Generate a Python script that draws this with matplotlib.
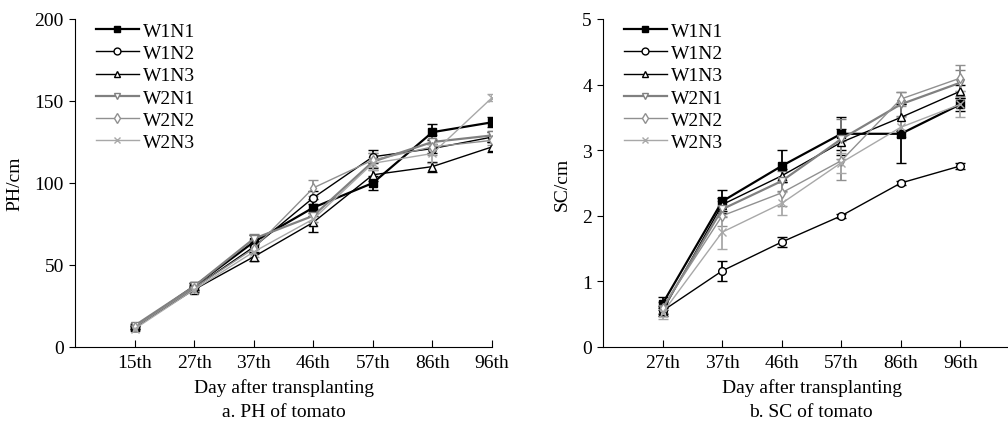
import numpy as np
from matplotlib import pyplot as plt

plt.rcParams['font.family'] = ['Liberation Serif', 'DejaVu Serif']
plt.rcParams['font.size'] = 14

# plant height (cm)
ph_days = ["15th", "27th", "37th", "46th", "57th", "86th", "96th"]
ph_W1N1 = [12, 37, 64, 85, 100, 131, 137]
ph_W1N2 = [12, 36, 61, 91, 116, 121, 128]
ph_W1N3 = [12, 35, 55, 76, 105, 110, 122]
ph_W2N1 = [13, 37, 66, 80, 113, 125, 129]
ph_W2N2 = [12, 36, 60, 97, 114, 122, 126]
ph_W2N3 = [11, 35, 58, 78, 112, 118, 152]
ph_err_W1N1 = [1, 2, 4, 5, 4, 5, 3]
ph_err_W1N2 = [1, 1.5, 3, 4, 4, 3, 3]
ph_err_W1N3 = [1, 1.5, 2.5, 6, 4, 3, 3]
ph_err_W2N1 = [1, 2, 3, 4, 5, 4, 3]
ph_err_W2N2 = [1, 2, 3, 5, 4, 5, 3]
ph_err_W2N3 = [1, 2, 3, 4, 4, 6, 2]

# stem coarse (cm)
sc_days = ["27th", "37th", "46th", "57th", "86th", "96th"]
sc_W1N1 = [0.66, 2.22, 2.76, 3.25, 3.25, 3.70]
sc_W1N2 = [0.55, 1.16, 1.60, 2.00, 2.50, 2.76]
sc_W1N3 = [0.55, 2.17, 2.61, 3.12, 3.50, 3.90]
sc_W2N1 = [0.58, 2.10, 2.53, 3.17, 3.70, 4.03]
sc_W2N2 = [0.60, 2.00, 2.35, 2.84, 3.78, 4.10]
sc_W2N3 = [0.52, 1.75, 2.19, 2.81, 3.35, 3.70]
sc_err_W1N1 = [0.10, 0.18, 0.25, 0.25, 0.45, 0.10]
sc_err_W1N2 = [0.05, 0.15, 0.08, 0.03, 0.03, 0.05]
sc_err_W1N3 = [0.08, 0.10, 0.10, 0.20, 0.20, 0.10]
sc_err_W2N1 = [0.10, 0.12, 0.15, 0.30, 0.18, 0.20]
sc_err_W2N2 = [0.08, 0.15, 0.20, 0.30, 0.10, 0.20]
sc_err_W2N3 = [0.10, 0.25, 0.18, 0.15, 0.15, 0.20]

labels = ["W1N1", "W1N2", "W1N3", "W2N1", "W2N2", "W2N3"]
styles = [
    dict(color="black", marker="s", mfc="black", lw=1.6),
    dict(color="black", marker="o", mfc="white", lw=1.0),
    dict(color="black", marker="^", mfc="white", lw=1.0),
    dict(color="#808080", marker="v", mfc="white", lw=1.6),
    dict(color="#909090", marker="d", mfc="white", lw=1.0),
    dict(color="#a8a8a8", marker="x", mfc="white", lw=1.0),
]

fig = plt.figure(figsize=(10.08, 4.27), dpi=100)
W, H = 1008.0, 427.0
ax1 = fig.add_axes([75 / W, 1 - 348 / H, 417 / W, 328 / H])
ax2 = fig.add_axes([603 / W, 1 - 348 / H, 417 / W, 328 / H])


def draw(ax, days, series, errs):
    x = np.arange(len(days))
    lines = []
    for y, e, lab, st in zip(series, errs, labels, styles):
        c = ax.errorbar(x, y, yerr=e, label=lab, color=st["color"], lw=st["lw"],
                        marker=st["marker"], ms=5.5, mfc=st["mfc"], mec=st["color"],
                        mew=1.0, capsize=3.5, elinewidth=1.3, capthick=1.3)
        lines.append(c[0])
    ax.set_xticks(x)
    ax.set_xticklabels(days)
    ax.set_xlim(-1, 6)
    ax.spines["top"].set_visible(False)
    ax.spines["right"].set_visible(False)
    ax.tick_params(axis="x", direction="in", length=5, pad=5)
    ax.tick_params(axis="y", direction="out", length=4, pad=4)
    ax.set_xlabel("Day after transplanting", labelpad=5)
    ax.legend(lines, labels, loc="upper left", bbox_to_anchor=(0.05, 0.99),
              frameon=False, numpoints=1, handlelength=2.2, handletextpad=0.2,
              labelspacing=0.24, borderpad=0, borderaxespad=0, markerscale=0.9)


draw(ax1, ph_days,
     [ph_W1N1, ph_W1N2, ph_W1N3, ph_W2N1, ph_W2N2, ph_W2N3],
     [ph_err_W1N1, ph_err_W1N2, ph_err_W1N3, ph_err_W2N1, ph_err_W2N2, ph_err_W2N3])
ax1.set_ylim(0, 200)
ax1.set_yticks([0, 50, 100, 150, 200])
ax1.set_ylabel("PH/cm", labelpad=8)

draw(ax2, sc_days,
     [sc_W1N1, sc_W1N2, sc_W1N3, sc_W2N1, sc_W2N2, sc_W2N3],
     [sc_err_W1N1, sc_err_W1N2, sc_err_W1N3, sc_err_W2N1, sc_err_W2N2, sc_err_W2N3])
ax2.set_ylim(0, 5)
ax2.set_yticks([0, 1, 2, 3, 4, 5])
ax2.set_ylabel("SC/cm", labelpad=8)

fig.text(283.5 / W, 1 - 413 / H, "a. PH of tomato", ha="center", va="center")
fig.text(811 / W, 1 - 413 / H, "b. SC of tomato", ha="center", va="center")

fig.savefig("out.png", dpi=100)
